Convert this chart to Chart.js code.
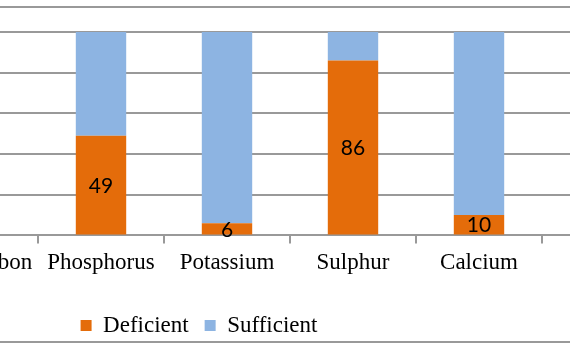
<!DOCTYPE html>
<html>
<head>
<meta charset="utf-8">
<script src="https://cdn.jsdelivr.net/npm/chart.js@4"></script>
<style>
  html, body { margin: 0; padding: 0; overflow: hidden; background: #fff; }
  #wrap { position: absolute; left: -270px; top: 0; width: 948px; height: 350px; }
</style>
</head>
<body>
<div id="wrap"><canvas id="plot"></canvas></div>
<script>
// only part of the original chart is visible; outer categories are cut off
const nutrients = ['Org. Carbon', 'Phosphorus', 'Potassium', 'Sulphur', 'Calcium', ''];
const deficient = [null, 49, 6, 86, 10, null];
const sufficient = [null, 51, 94, 14, 90, null];
const percentTicks = [0, 20, 40, 60, 80, 100];

const COLORS = {
  orange: '#E46C0A',
  blue: '#8DB4E2',
  grid: '#999999'
};

// Excel-ish chart border, top and bottom only are in view
const frameLines = {
  id: 'frameLines',
  beforeDraw(chart) {
    const c = chart.ctx;
    c.save();
    c.strokeStyle = COLORS.grid;
    c.lineWidth = 2;
    [7, 342].forEach(y => {
      c.beginPath();
      c.moveTo(0, y);
      c.lineTo(chart.width, y);
      c.stroke();
    });
    c.restore();
  }
};

// values inside the orange segments
const segmentLabels = {
  id: 'segmentLabels',
  afterDatasetsDraw(chart) {
    const c = chart.ctx;
    const meta = chart.getDatasetMeta(0);
    c.save();
    c.font = '21px Lato';
    c.fillStyle = '#000';
    c.textAlign = 'center';
    c.textBaseline = 'middle';
    meta.data.forEach((bar, i) => {
      const v = deficient[i];
      if (v == null) return;
      c.fillText(String(v), bar.x, (bar.y + bar.base) / 2 + 1);
    });
    c.restore();
  }
};

const ctx = document.getElementById('plot');

const config = {
  type: 'bar',
  data: {
    labels: nutrients,
    datasets: [
      {
        label: 'Deficient',
        data: deficient,
        backgroundColor: COLORS.orange,
        categoryPercentage: 1,
        barPercentage: 0.4
      },
      {
        label: 'Sufficient',
        data: sufficient,
        backgroundColor: COLORS.blue,
        categoryPercentage: 1,
        barPercentage: 0.4
      }
    ]
  },
  options: {
    responsive: true,
    maintainAspectRatio: false,
    animation: false,
    layout: { padding: { top: 32, right: 10, left: 0, bottom: 3 } },
    plugins: {
      tooltip: { enabled: false },
      legend: {
        position: 'bottom',
        labels: {
          boxWidth: 11,
          boxHeight: 11,
          padding: 16,
          color: '#000',
          font: { family: 'Liberation Serif', size: 23 }
        }
      }
    },
    scales: {
      x: {
        stacked: true,
        offset: true,
        afterFit: (scale) => { scale.height += 15; },
        grid: {
          drawOnChartArea: false,
          drawTicks: true,
          tickLength: 8,
          color: COLORS.grid,
          lineWidth: 2
        },
        border: { color: COLORS.grid, width: 2 },
        ticks: {
          padding: 6,
          color: '#000',
          maxRotation: 0,
          autoSkip: false,
          font: { family: 'Liberation Serif', size: 23 }
        }
      },
      y: {
        stacked: true,
        min: 0,
        max: 100,
        afterFit: (scale) => { scale.width = 182; },
        afterBuildTicks: (scale) => { scale.ticks = percentTicks.map(v => ({ value: v })); },
        grid: { color: COLORS.grid, lineWidth: 2, drawTicks: false },
        border: { display: false },
        ticks: {
          callback: v => v + '%',
          font: { family: 'Liberation Serif', size: 20 }
        }
      }
    }
  },
  plugins: [frameLines, segmentLabels]
};

chart = new Chart(ctx, config);
</script>
</body>
</html>
